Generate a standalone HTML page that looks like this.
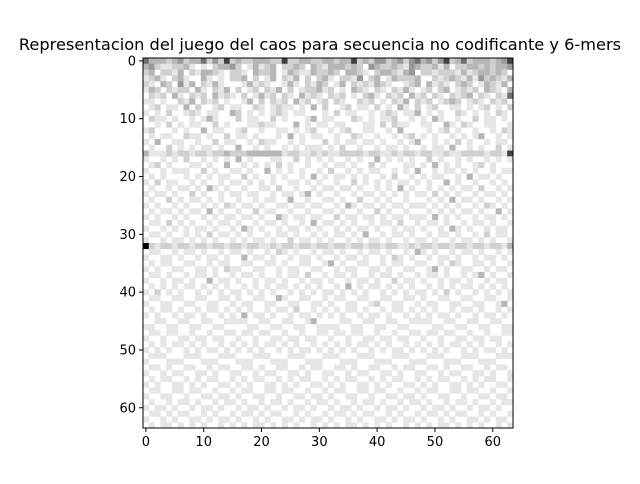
<!DOCTYPE html>
<html><head><meta charset="utf-8"><style>
body{margin:0;background:#fff;width:640px;height:480px;overflow:hidden;font-family:"DejaVu Sans","Liberation Sans",sans-serif}
</style></head><body>
<svg id="chart" width="640" height="480" xmlns="http://www.w3.org/2000/svg">
<text x="320" y="50" font-size="16.2" text-anchor="middle" fill="#000" font-family="DejaVu Sans, Liberation Sans, sans-serif">Representacion del juego del caos para secuencia no codificante y 6-mers</text>
<g id="cells"></g>
<g id="axes"></g>
</svg>
<script>
const xTicks=[0,10,20,30,40,50,60];
const yTicks=[0,10,20,30,40,50,60];
const shades=["#ffffff","#e6e6e6","#d0d0d0","#b6b6b6","#999999","#707070","#404040","#000000"];
const rows=[
"5333234233524262322333226223322332336232442342453424623523332346",
"3421122310102334201312302232032133323204322321432231302233232334",
"2302213021332102210322301321132232033210233213402212221312332320",
"1231023100310102230201302130202310221402301322230021232131423213",
"2103204130213100013121001310213201302121321001230312102320132130",
"1320212203102130201202130201223120103210210213101202301212032103",
"0212031021203121020131202103121021201023102120312021021230210215",
"1101002130212010013020212031201202100212010213021201232012102120",
"0120110302001201100210121101030200120110201031020120011010120102",
"1010200121011003201010121011000102011001012101130101002101010210",
"0211010010131000201100201000130110002101011200101031001002011010",
"0010201011002010001121100030101101100011020211001100310210011001",
"1200010100301100120010011010120010120011001030000101201001001021",
"0101100211010020110100010301011001002100100101201010010101300101",
"1030011001002011001021100101000201011011010010130010102010010110",
"0100201010110100300101001010111010200100101101001011030010100201",
"3111212212212232223333331221121211222212211212212211211222212216",
"1001010200101010301000110020101010010100301010100201001010010101",
"0120100011010030010101020100100101101002010001101030101001201000",
"1001011100201001101003010101001020010101100101030010110101001011",
"0101000101010110020100101001030101101010010200101011001030110100",
"1020110010100101101010100110101001002010101011010100301001001010",
"0100101101031010010011020010010110110100101030100101010110200101",
"1011010020100101101100101101301001001011010101011020101001011010",
"0100201011010100100101100300100110100200101001000101030110100101",
"1010010100101021011010011011011001031011010110111010101001021010",
"0101101011030100100201100100100110100100201001000101010110100301",
"1010010100101011011010031011011002011011010110111030101001011010",
"0110201010010110100101101001030110101001011020010110100101101001",
"1001010101101001031010010110101001010110100101101001031010010110",
"0110100101020110101001011010010101101030010110100101101001020110",
"1001011010101001010110100201101010010101101001011010010110101001",
"7212212212212212212211212212212212212212212211212212212212212213",
"0110010110100101101001021010010110100101101001031010010110100101",
"1001101001011010030110100101101001011010010210100101101001011010",
"0101100110010110011001101001100130100110010110011001021001101001",
"1010011001101021100110010110011001011001101001100130100110010110",
"0110100101101001011010010110200101101001011010010110100101301001",
"1001011010030110100101101001011010010110100201101001011010010110",
"0101010110101010010101011010101001030101101010100101010110101010",
"1020101001010101101010100101010110101010010101011010201001010101",
"0110011001100110100110031001100101100110011001101001100110011001",
"1001100110011001011001100110011010011001200110010110011001100130",
"0101101001011010101001011020010101011010010110101010010110100101",
"1010010110100101030110100101101010100101101001010101101001011010",
"0011001100110011110011001100130000110011001100111100110011001100",
"1100110011001100001100110011001111001100110011000011001100110011",
"0110110010010011011011001001001101101100100100110110110010010011",
"1001001101101100100100110110110010010011011011001001001101101100",
"0101011010100101010101101010010101010110101001010101011010100101",
"1010100101011010101010010101101010101001010110101010100101011010",
"0111000111000111000111000111000111000111000111000111000111000111",
"1000111000111000111000111000111000111000111000111000111000111000",
"0110100110010110011010011001011001101001100101100110100110010110",
"1001011001101001100101100110100110010110011010011001011001101001",
"0101100101011001010110010101100101011001010110010101100101011001",
"1010011010100110101001101010011010100110101001101010011010100110",
"0110011011001001011001101100100101100110110010010110011011001001",
"1001100100110110100110010011011010011001001101101001100100110110",
"0100101101001011010010110100101101001011010010110100101101001011",
"1011010010110100101101001011010010110100101101001011010010110100",
"0110101100101001011010110010100101101011001010010110101100101001",
"1001010011010110100101001101011010010100110101101001010011010110",
"0101101010100101010110101010010101011010101001010101101010100101"
];
const X0=143,Y0=58,W=370,H=370,N=64;
const cw=W/N,ch=H/N;
function xs(v){return X0+v*cw;}
function ys(v){return Y0+v*ch;}
const NS="http://www.w3.org/2000/svg";
const g=document.getElementById('cells');
rows.forEach((row,r)=>{
  for(let c=0;c<N;c++){
    const lvl=+row[c];
    if(!lvl) continue;
    const el=document.createElementNS(NS,'rect');
    
    
    el.setAttribute('x',xs(c).toFixed(2));
    el.setAttribute('y',ys(r).toFixed(2));
    el.setAttribute('width',(cw+0.3).toFixed(2));
    el.setAttribute('height',(ch+0.3).toFixed(2));
    el.setAttribute('fill',shades[lvl]);
    g.appendChild(el);
  }
});
const ax=document.getElementById('axes');
const frame=document.createElementNS(NS,'rect');


frame.setAttribute('x',X0);frame.setAttribute('y',Y0);
frame.setAttribute('width',W);frame.setAttribute('height',H);
frame.setAttribute('fill','none');frame.setAttribute('stroke','#000');frame.setAttribute('stroke-width','1');
ax.appendChild(frame);
xTicks.forEach(v=>{
  const x=xs(v+0.5);
  const t=document.createElementNS(NS,'line');
  
  
  t.setAttribute('x1',x);t.setAttribute('x2',x);t.setAttribute('y1',Y0+H);t.setAttribute('y2',Y0+H+4);
  t.setAttribute('stroke','#000');
  ax.appendChild(t);
  const l=document.createElementNS(NS,'text');
  
  
  l.setAttribute('x',x);l.setAttribute('y',Y0+H+18);
  l.setAttribute('text-anchor','middle');l.setAttribute('font-size','13');
  l.setAttribute('font-family','DejaVu Sans, Liberation Sans, sans-serif');
  l.textContent=v;
  ax.appendChild(l);
});
yTicks.forEach(v=>{
  const y=ys(v+0.5);
  const t=document.createElementNS(NS,'line');
  
  
  t.setAttribute('x1',X0-4);t.setAttribute('x2',X0);t.setAttribute('y1',y);t.setAttribute('y2',y);
  t.setAttribute('stroke','#000');
  ax.appendChild(t);
  const l=document.createElementNS(NS,'text');
  
  
  l.setAttribute('x',X0-7);l.setAttribute('y',y+4.5);
  l.setAttribute('text-anchor','end');l.setAttribute('font-size','13');
  l.setAttribute('font-family','DejaVu Sans, Liberation Sans, sans-serif');
  l.textContent=v;
  ax.appendChild(l);
});
</script>
</body></html>
